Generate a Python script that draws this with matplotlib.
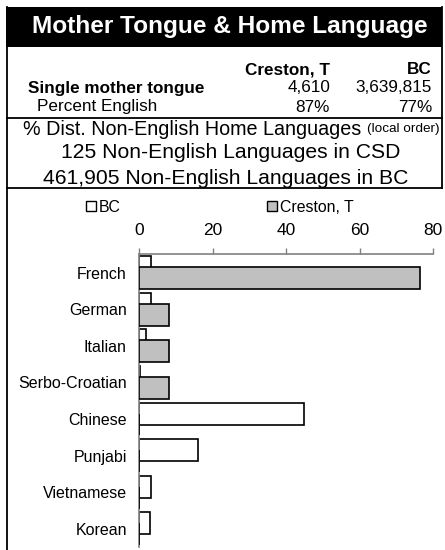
import matplotlib
matplotlib.use("Agg")
import matplotlib.pyplot as plt
from matplotlib.lines import Line2D
from matplotlib.patches import Rectangle, Patch

plt.rcParams["font.family"] = ["Liberation Sans", "DejaVu Sans"]

# summary table
places = ["Creston, T", "BC"]
single_mother_tongue = ["4,610", "3,639,815"]
percent_english = ["87%", "77%"]
n_lang_csd = "125"
n_lang_bc = "461,905"

# % distribution of non-English home languages
languages = ["French", "German", "Italian", "Serbo-Croatian",
             "Chinese", "Punjabi", "Vietnamese", "Korean"]
bc_pct = [3.2, 3.2, 1.9, 0.3, 44.9, 16.1, 3.2, 3.0]
creston_pct = [76.4, 8.1, 8.2, 8.2, 0, 0, 0, 0]
xticks = [0, 20, 40, 60, 80]

W, H = 445, 550


def fx(px):
    return px / W


def fy(py):
    return 1 - py / H


def main():
    fig = plt.figure(figsize=(W / 100, H / 100), dpi=100)

    # header box
    fig.add_artist(Rectangle((fx(6), fy(47)), fx(436), 40 / H,
                             transform=fig.transFigure, facecolor="black",
                             edgecolor="none"))
    fig.text(fx(230), fy(27), "Mother Tongue & Home Language", color="white",
             fontsize=17.6, fontweight="bold", ha="center", va="center")

    for (x0, y0, x1, y1) in [(7, 7, 7, 550), (442, 7, 442, 188),
                             (7, 118, 442, 118), (7, 188, 442, 188)]:
        fig.add_artist(Line2D([fx(x0), fx(x1)], [fy(y0), fy(y1)],
                              transform=fig.transFigure, color="black", lw=1.3))

    cols = [330, 432]
    for c, name, v1, v2 in zip(cols, places, single_mother_tongue, percent_english):
        fig.text(fx(c), fy(70), name, fontsize=12.3, fontweight="bold",
                 ha="right", va="center")
        fig.text(fx(c), fy(88), v1, fontsize=12.3, ha="right", va="center")
        fig.text(fx(c), fy(107), v2, fontsize=12.3, ha="right", va="center")
    fig.text(fx(28), fy(88), "Single mother tongue", fontsize=12.3,
             fontweight="bold", ha="left", va="center")
    fig.text(fx(37), fy(107), "Percent English", fontsize=12.3,
             ha="left", va="center")

    t = fig.text(fx(23), fy(129), "% Dist. Non-English Home Languages ",
                 fontsize=14.2, ha="left", va="center")
    fig.canvas.draw()
    bb = t.get_window_extent()
    fig.text(bb.x1 / fig.dpi / fig.get_figwidth(), fy(129), "(local order)",
             fontsize=9.7, ha="left", va="center")
    fig.text(fx(231), fy(153), f"{n_lang_csd} Non-English Languages in CSD",
             fontsize=15.2, ha="center", va="center")
    fig.text(fx(225.5), fy(178), f"{n_lang_bc} Non-English Languages in BC",
             fontsize=15.2, ha="center", va="center")

    # bar chart
    ax = fig.add_axes([fx(139.3), fy(547), fx(433) - fx(139.3), (547 - 254.5) / H])
    pos = [i + 0.5 for i in range(len(languages))]
    ax.barh([p - 0.15 for p in pos], bc_pct, height=0.6, color="white",
            edgecolor="black", lw=1.2, zorder=2)
    ax.barh([p + 0.15 for p in pos], creston_pct, height=0.6, color="#c0c0c0",
            edgecolor="black", lw=1.2, zorder=3)
    ax.set_xlim(0, 80)
    ax.set_ylim(len(languages), 0)
    ax.set_xticks(xticks)
    ax.xaxis.tick_top()
    ax.tick_params(axis="x", direction="out", length=4, width=1, color="#808080",
                   labelsize=12.5, pad=8)
    ax.set_yticks(pos)
    ax.set_yticklabels(languages, fontsize=11.5)
    ax.tick_params(axis="y", length=0, pad=9)
    for s in ["right", "bottom"]:
        ax.spines[s].set_visible(False)
    for s in ["left", "top"]:
        ax.spines[s].set_color("#808080")
        ax.spines[s].set_linewidth(1.2)

    # legend: two entries placed apart like the original
    entries = [("BC", "white", 86), ("Creston, T", "#c0c0c0", 267)]
    for name, col, x in entries:
        h = Patch(facecolor=col, edgecolor="black", lw=1)
        fig.legend(handles=[h], labels=[name], loc="center left",
                   bbox_to_anchor=(fx(x), fy(207)), frameon=False,
                   fontsize=11.4, handlelength=0.65, handleheight=0.65,
                   handletextpad=0.15, borderaxespad=0, borderpad=0)

    fig.savefig("out.png", dpi=100)


if __name__ == "__main__":
    main()
